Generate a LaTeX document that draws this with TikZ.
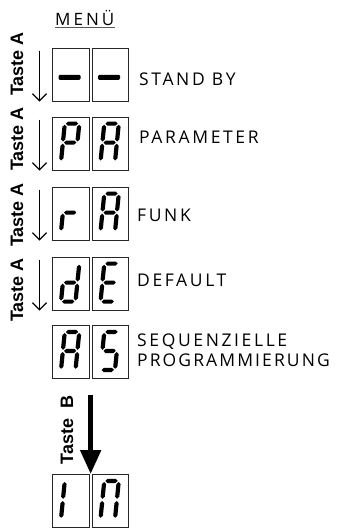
\documentclass[tikz,border=0pt]{standalone}
\usepackage{fontspec}
\setmainfont{Open Sans}
\newfontfamily\lblfont[LetterSpace=15]{Open Sans}
\newfontfamily\keyfont{Liberation Sans}
\usetikzlibrary{arrows.meta}

\tikzset{
  dbox/.style={draw=black!85, line width=0.9pt, minimum width=36.5pt, minimum height=53pt, inner sep=0pt, anchor=north west},
  lbl/.style={anchor=base west, font=\lblfont\fontsize{17.5}{20}\selectfont, inner sep=0pt, align=left},
  keylbl/.style={rotate=90, font=\keyfont\bfseries\fontsize{18}{20}\selectfont, inner sep=0pt},
  thinarrow/.style={line width=1.3pt, -{Straight Barb[length=7pt,width=14pt]}},
  thickarrow/.style={line width=5pt, -{Triangle[length=24pt,width=20pt]}},
  dashbar/.style={fill=black, rounded corners=1.2pt},
  % segments (u right, v down; digit bottom-left = origin, top v=-38, width 14.5)
  seg a/.pic={\fill (1.1,-38) -- (3.2,-40.1) -- (11.3,-40.1) -- (13.4,-38) -- (11.3,-35.9) -- (3.2,-35.9) -- cycle;},
  seg g/.pic={\fill (1.1,-19) -- (3.2,-21.1) -- (11.3,-21.1) -- (13.4,-19) -- (11.3,-16.9) -- (3.2,-16.9) -- cycle;},
  seg d/.pic={\fill (1.1,0) -- (3.2,-2.1) -- (11.3,-2.1) -- (13.4,0) -- (11.3,2.1) -- (3.2,2.1) -- cycle;},
  seg f/.pic={\fill (0,-36.9) -- (2.1,-34.8) -- (2.1,-22.2) -- (0,-20.1) -- (-2.1,-22.2) -- (-2.1,-34.8) -- cycle;},
  seg e/.pic={\fill (0,-17.9) -- (2.1,-15.8) -- (2.1,-3.2) -- (0,-1.1) -- (-2.1,-3.2) -- (-2.1,-15.8) -- cycle;},
  seg b/.pic={\fill (14.5,-36.9) -- (16.6,-34.8) -- (16.6,-22.2) -- (14.5,-20.1) -- (12.4,-22.2) -- (12.4,-34.8) -- cycle;},
  seg c/.pic={\fill (14.5,-17.9) -- (16.6,-15.8) -- (16.6,-3.2) -- (14.5,-1.1) -- (12.4,-3.2) -- (12.4,-15.8) -- cycle;},
}
\newcommand\sevenseg[2]{%
  \begin{scope}[shift={(#1.south west)}, shift={(9,-9)}, xslant=0.1, transform shape]
    \foreach \s in {#2} {\pic[transform shape] {seg \s};}
  \end{scope}}

\begin{document}
\begin{tikzpicture}[x=1pt,y=-1pt]
\useasboundingbox (0,0) rectangle (340,530);

% title
\node[font=\lblfont\fontsize{17}{18}\selectfont\addfontfeature{LetterSpace=18}, inner sep=0pt, anchor=base west] (menu) at (55,25) {MENÜ};
\draw[black!65, line width=0.9pt] ([yshift=-2.5pt]menu.base west) -- ([yshift=-2.5pt]menu.base east);

% digit boxes
\node[dbox] (r1a) at (52,47.7) {};  \node[dbox] (r1b) at (91.5,47.7) {};
\node[dbox] (r2a) at (52,116.7) {}; \node[dbox] (r2b) at (91.5,116.7) {};
\node[dbox] (r3a) at (52,186.7) {}; \node[dbox] (r3b) at (91.5,186.7) {};
\node[dbox] (r4a) at (52,256.7) {}; \node[dbox] (r4b) at (91.5,256.7) {};
\node[dbox] (r5a) at (52,325) {};   \node[dbox] (r5b) at (91.5,325) {};
\node[dbox] (r6a) at (52,474) {};   \node[dbox] (r6b) at (91.5,474) {};

% stand-by dashes
\foreach \r in {r1a,r1b}{
  \fill[dashbar] ([xshift=6.5pt,yshift=21.8pt]\r.south west) rectangle ++(22,-5);
}
\sevenseg{r2a}{a,b,e,f,g} \sevenseg{r2b}{a,b,c,e,f,g}
\sevenseg{r3a}{e,g}       \sevenseg{r3b}{a,b,c,e,f,g}
\sevenseg{r4a}{b,c,d,e,g} \sevenseg{r4b}{a,d,e,f,g}
\sevenseg{r5a}{a,b,c,e,f,g} \sevenseg{r5b}{a,c,d,f,g}
\sevenseg{r6a}{e,f}       \sevenseg{r6b}{a,b,c,e,f}

% labels
\node[lbl] (l1) at (139,85) {STAND BY};
\node[lbl] (l2) at (139,143.3) {PARAMETER};
\node[lbl] (l3) at (137,221.7) {FUNK};
\node[lbl] (l4) at (137,286.7) {DEFAULT};
\node[lbl] (l5) at (137,346.7) {SEQUENZIELLE};
\node[lbl, font=\lblfont\fontsize{17.5}{20}\selectfont\addfontfeature{LetterSpace=12}] (l6) at (137,366.7) {PROGRAMMIERUNG};

% Taste A arrows
\foreach \r in {r1a,r2a,r3a,r4a}{
  \draw[thinarrow] ([xshift=-12.5pt,yshift=-3pt]\r.north west) -- ([xshift=-12.5pt]\r.south west);
}
\node[keylbl] (k1) at (17,64) {Taste A};
\node[keylbl] (k2) at (17,139) {Taste A};
\node[keylbl] (k3) at (17,215) {Taste A};
\node[keylbl] (k4) at (17,290) {Taste A};

% Taste B
\coordinate (bstart) at ([xshift=1.25pt,yshift=-16pt]r5a.south east);
\draw[thickarrow] (bstart) -- ([xshift=1.25pt]r6a.north east);
\node[keylbl] (kb) at (67,430) {Taste\ \ B};
\end{tikzpicture}
\end{document}
